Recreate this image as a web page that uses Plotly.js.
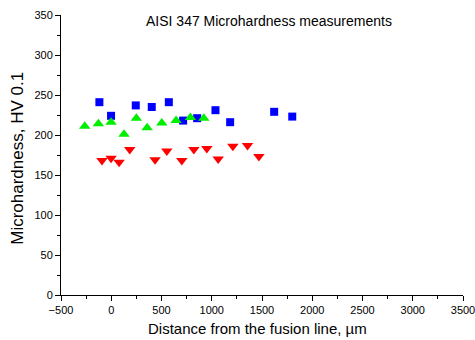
<!DOCTYPE html>
<html><head><meta charset="utf-8">
<script src="https://cdn.plot.ly/plotly-3.0.1.min.js"></script>
<style>html,body{margin:0;padding:0;background:#fff}#c{width:475px;height:340px}</style>
</head><body><div id="c"></div>
<script>
const blueX = [-118, -2, 244, 403, 573, 715, 855, 1037, 1183, 1621, 1801];
const blueY = [241, 224, 237, 235, 241, 218, 221, 231, 216, 229, 223];
const greenX = [-264, -128, -2, 127, 250, 357, 503, 645, 788, 921];
const greenY = [211, 214, 216, 201, 221, 209, 215, 218, 222, 221];
const redX = [-92, -2, 78, 184, 436, 553, 702, 822, 951, 1064, 1210, 1356, 1469];
const redY = [168, 171, 166, 182, 169, 180, 168, 182, 183, 170, 186, 187, 173];
const xTickVals = [-500, 0, 500, 1000, 1500, 2000, 2500, 3000, 3500];
const yTickVals = [0, 50, 100, 150, 200, 250, 300, 350];

const F = 'Liberation Sans, Arial, sans-serif';
const traces = [
  {x: blueX, y: blueY, mode: 'markers', type: 'scatter', marker: {symbol: 'square', size: 8, color: '#0000ff'}},
  {x: greenX, y: greenY, mode: 'markers', type: 'scatter', marker: {symbol: 'triangle-up', size: 10, color: '#00ee00'}},
  {x: redX, y: redY, mode: 'markers', type: 'scatter', marker: {symbol: 'triangle-down', size: 10, color: '#ff0000'}}
];
const axisCommon = {showline: true, linecolor: '#000', linewidth: 1, ticks: 'outside', ticklen: 5, tickcolor: '#000', showgrid: false, zeroline: false, ticklabeloverflow: 'allow', automargin: false, tickfont: {family: F, size: 11, color: '#000'}};
const layout = {
  width: 475, height: 340,
  margin: {l: 61, r: 12, t: 15, b: 45},
  showlegend: false,
  paper_bgcolor: '#fff', plot_bgcolor: '#fff',
  xaxis: Object.assign({}, axisCommon, {range: [-500, 3500], tickmode: 'array', tickvals: xTickVals,
    minor: {ticks: 'outside', ticklen: 3, dtick: 250, tick0: 0, tickcolor: '#000'}}),
  yaxis: Object.assign({}, axisCommon, {range: [0, 350], tickmode: 'array', tickvals: yTickVals,
    minor: {ticks: 'outside', ticklen: 3, dtick: 25, tick0: 0, tickcolor: '#000'}}),
  annotations: [
    {text: 'AISI 347 Microhardness measurements', xref: 'paper', yref: 'paper', x: 0.5166, y: 0.9786, xanchor: 'center', yanchor: 'middle', showarrow: false, font: {family: F, size: 14, color: '#000'}},
    {text: 'Distance from the fusion line, \u00b5m', xref: 'paper', yref: 'paper', x: 0.49, y: -0.119, xanchor: 'center', yanchor: 'middle', showarrow: false, font: {family: F, size: 15, color: '#000'}},
    {text: 'Microhardness, HV 0.1', xref: 'paper', yref: 'paper', x: -0.1083, y: 0.4882, xanchor: 'center', yanchor: 'middle', textangle: -90, showarrow: false, font: {family: F, size: 17, color: '#000'}}
  ]
};
Plotly.newPlot('c', traces, layout, {displayModeBar: false, staticPlot: true});
</script></body></html>
